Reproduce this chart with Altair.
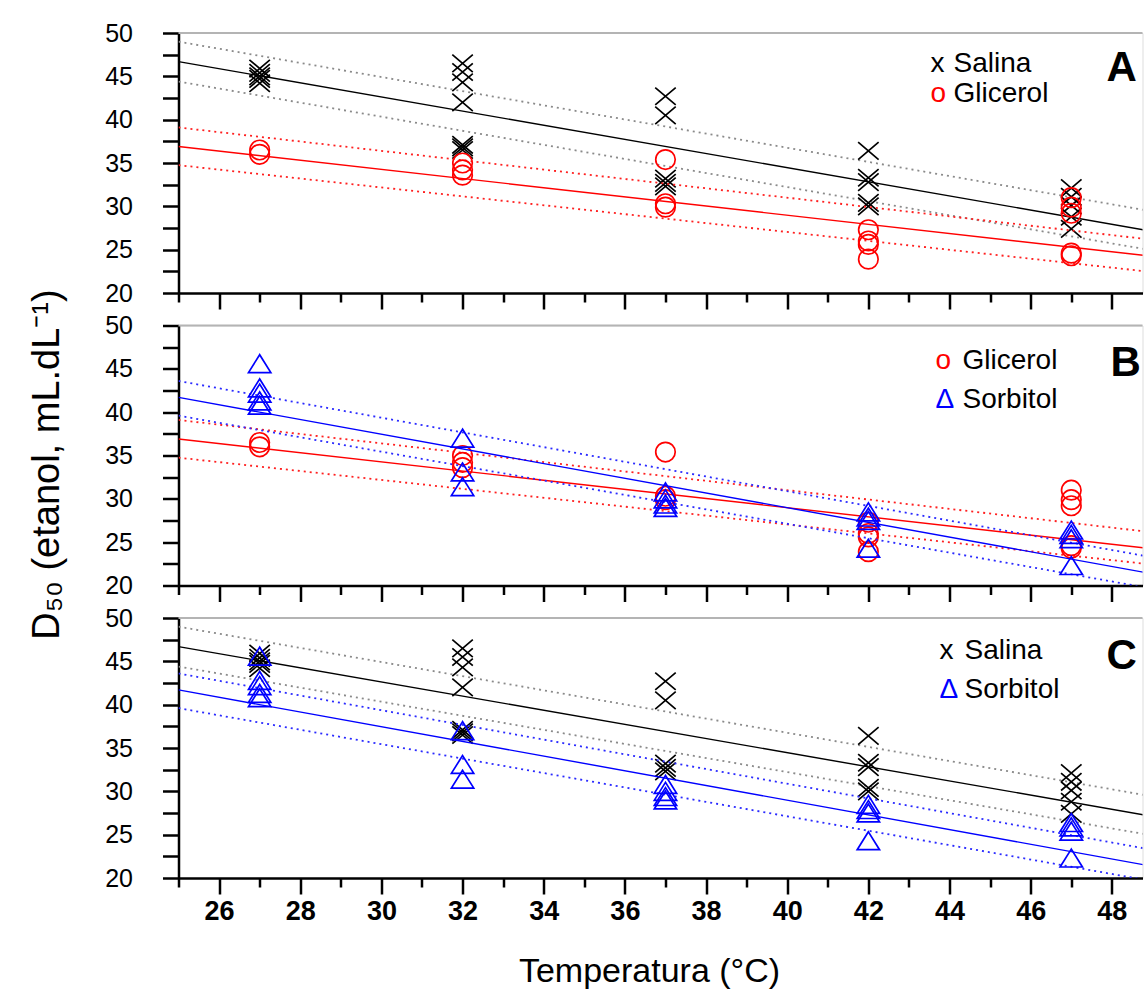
import altair as alt
import pandas as pd

# ---------------- data ----------------
SALINA_T = [27] * 5 + [32] * 7 + [37] * 5 + [42] * 5 + [47] * 5
SALINA_V = [44.2, 44.7, 45.0, 45.4, 45.9,
            46.5, 45.5, 44.3, 42.0, 37.1, 36.8, 36.5,
            42.7, 40.5, 33.2, 32.7, 32.3,
            36.4, 33.3, 32.8, 30.4, 30.0,
            32.1, 31.1, 30.1, 28.8, 27.4]

GLICEROL_T = [27] * 2 + [32] * 3 + [37] * 3 + [42] * 4 + [47] * 5
GLICEROL_V = [36.0, 36.5,
              35.0, 34.2, 33.6,
              35.4, 30.3, 29.9,
              27.3, 26.0, 25.6, 23.9,
              31.0, 29.9, 29.2, 24.6, 24.3]

SORBITOL_T = [27] * 5 + [32] * 3 + [37] * 4 + [42] * 4 + [47] * 4
SORBITOL_V = [45.6, 42.8, 42.2, 41.3, 40.8,
              37.0, 33.1, 31.4,
              30.8, 30.0, 29.4, 29.0,
              28.5, 27.9, 27.5, 24.3,
              26.4, 25.9, 25.4, 22.3]

# regression line and its confidence limits: values at x = 25 and x = 50
FIT_X = [25, 50]
SALINA_FIT = [46.7, 26.3]
SALINA_UP = [49.0, 28.6]
SALINA_LO = [44.4, 24.1]
GLICEROL_FIT = [36.9, 23.7]
GLICEROL_UP = [39.1, 25.6]
GLICEROL_LO = [34.75, 21.9]
SORBITOL_FIT = [41.7, 20.5]
SORBITOL_UP = [43.6, 22.4]
SORBITOL_LO = [39.6, 18.8]

X_TICKS = list(range(25, 49))
Y_TICKS = [20, 22.5, 25, 27.5, 30, 32.5, 35, 37.5, 40, 42.5, 45, 47.5, 50]
X_DOMAIN = [25, 48.755]
Y_DOMAIN = [20, 50]

X_TITLE = "Temperatura (\u00b0C)"
Y_TITLE = "D\u2085\u2080 (etanol, mL.dL\u207b\u00b9)"

FONT = "Liberation Sans"
CROSS = "M-1,-0.85L1,0.85M-1,0.85L1,-0.85"
TRI = "M0,-0.8L-1,0.8L1,0.8Z"

SERIES = {
    "Salina": dict(t=SALINA_T, v=SALINA_V, fit=SALINA_FIT, up=SALINA_UP, lo=SALINA_LO,
                   color="black", band="#8a8a8a", shape=CROSS, size=420),
    "Glicerol": dict(t=GLICEROL_T, v=GLICEROL_V, fit=GLICEROL_FIT, up=GLICEROL_UP, lo=GLICEROL_LO,
                     color="#ff0000", band="#ff2020", shape="circle", size=380),
    "Sorbitol": dict(t=SORBITOL_T, v=SORBITOL_V, fit=SORBITOL_FIT, up=SORBITOL_UP, lo=SORBITOL_LO,
                     color="#0000ff", band="#2a2aff", shape=TRI, size=500),
}
SYMBOL = {"Salina": "x", "Glicerol": "o", "Sorbitol": "\u0394"}

W, H = 964, 260


def x_enc(show):
    axis = alt.Axis(
        values=X_TICKS,
        tickSize={"condition": {"test": "datum.value % 2 == 0", "value": 16}, "value": 9},
        labels=show,
        labelExpr="datum.value % 2 == 0 ? '' + datum.value : ''",
        labelFont=FONT, labelFontWeight="bold", labelFontSize=27, labelColor="black",
        labelPadding=4, labelOverlap=False, labelFlush=False,
        domainColor="black", domainWidth=2.5, tickColor="black", tickWidth=2.5,
        grid=False, title=None,
    )
    return alt.X("T:Q", scale=alt.Scale(domain=X_DOMAIN, nice=False, zero=False), axis=axis)


def y_enc():
    axis = alt.Axis(
        values=Y_TICKS, tickSize=16,
        labelExpr="datum.value % 5 == 0 ? '' + datum.value : ''",
        labelFont=FONT, labelFontSize=25, labelColor="black", labelPadding=30,
        labelOverlap=False, labelFlush=False,
        domainColor="black", domainWidth=2.5, tickColor="black", tickWidth=2.5,
        grid=False, title=None,
    )
    return alt.Y("D:Q", scale=alt.Scale(domain=Y_DOMAIN, nice=False, zero=False), axis=axis)


def series_layers(name, X, Y):
    s = SERIES[name]
    pts = pd.DataFrame({"T": s["t"], "D": s["v"]})
    lines = pd.DataFrame({
        "T": FIT_X * 3,
        "D": s["fit"] + s["up"] + s["lo"],
        "kind": ["fit"] * 2 + ["up"] * 2 + ["lo"] * 2,
    })
    dotted = alt.Chart(lines).transform_filter("datum.kind != 'fit'").mark_line(
        color=s["band"], strokeDash=[2, 4], strokeWidth=1.8, clip=True
    ).encode(x=X, y=Y, detail="kind:N")
    solid = alt.Chart(lines).transform_filter("datum.kind == 'fit'").mark_line(
        color=s["color"], strokeWidth=1.4, clip=True
    ).encode(x=X, y=Y)
    marks = alt.Chart(pts).mark_point(
        shape=s["shape"], size=s["size"], filled=False, strokeWidth=1.7,
        color=s["color"], opacity=1
    ).encode(x=X, y=Y)
    return [dotted, solid, marks]


ONE = pd.DataFrame({"T": [25], "D": [50]})


def text_layer(txt, px, py, size, color="black", weight="normal", align="left", angle=0):
    kw = dict(angle=angle) if angle else {}
    return alt.Chart(ONE).mark_text(
        text=txt, font=FONT, fontSize=size, fontWeight=weight, color=color,
        align=align, baseline="alphabetic", **kw
    ).encode(x=alt.value(px), y=alt.value(py))


def panel(names, letter, leg, show_x, show_ytitle):
    X = x_enc(show_x)
    Y = y_enc()
    layers = []
    for n in names:
        layers += series_layers(n, X, Y)
    top = alt.Chart(ONE).mark_rule(color="#b4b4b4", strokeWidth=2).encode(y=Y)
    layers.append(top)
    sx, lx, b1, b2, letx, lety = leg
    for n, b in zip(names, [b1, b2]):
        layers.append(text_layer(SYMBOL[n], sx, b, 28, SERIES[n]["color"]))
        layers.append(text_layer(n, lx, b, 28))
    layers.append(text_layer(letter, letx, lety, 42, weight="bold"))
    if show_ytitle:
        layers.append(text_layer(Y_TITLE, -120, 139, 38, align="center", angle=270))
    if show_x:
        layers.append(text_layer(X_TITLE, 471, 364, 34, align="center"))
    return alt.layer(*layers).properties(width=W, height=H)


pA = panel(["Salina", "Glicerol"], "A", (752, 775, 39, 68.5, 928, 48), False, False)
pB = panel(["Glicerol", "Sorbitol"], "B", (757, 784, 43, 82, 932, 50), False, True)
pC = panel(["Salina", "Sorbitol"], "C", (761, 786, 41, 80, 928, 51), True, False)

chart = alt.vconcat(pA, pB, pC, spacing=32.5, bounds="flush").properties(
    padding={"left": 27.5, "top": 20, "right": 0, "bottom": 0}
).configure_view(stroke=None).configure(font=FONT, background="white")

chart.save("out.html", embed_options={"renderer": "svg", "actions": False})
